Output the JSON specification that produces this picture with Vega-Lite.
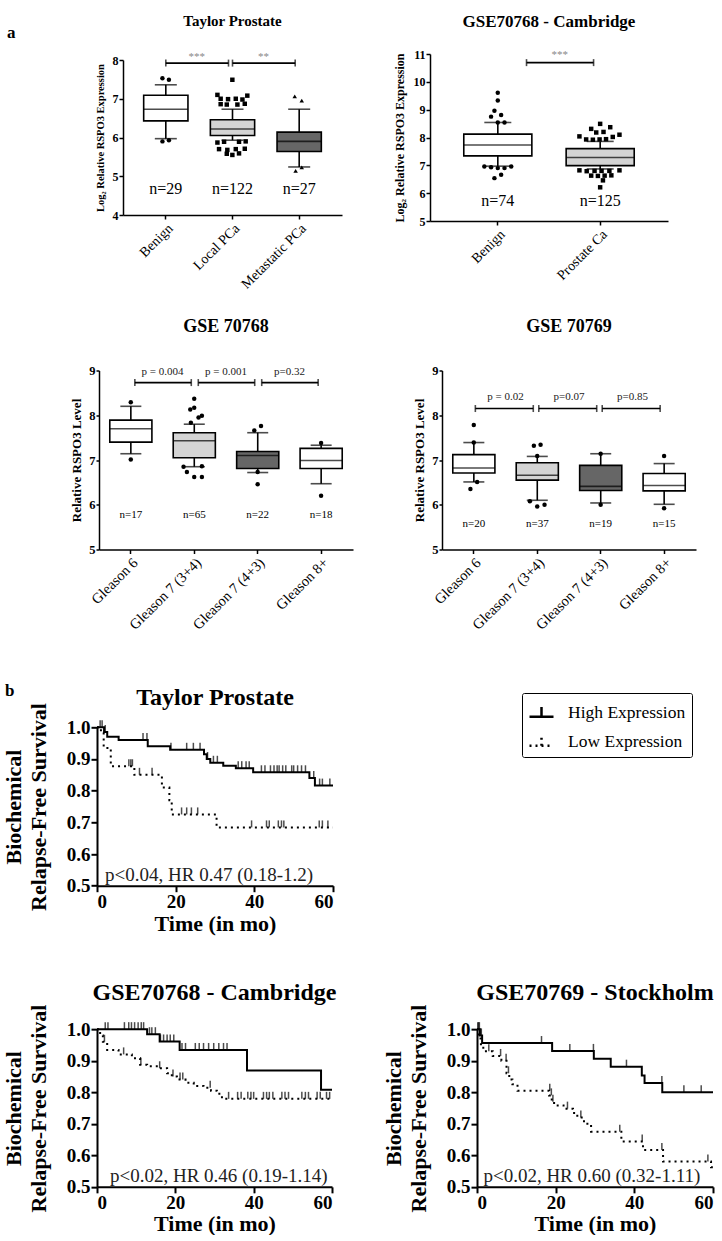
{
"$schema": "https://vega.github.io/schema/vega-lite/v6.json",
"padding": 0,
"background": "white",
"config": {"view": {"stroke": null}, "font": "Liberation Serif",
 "text": {"font": "Liberation Serif", "color": "black"},
 "axis": {"grid": false, "domainColor": "black", "tickColor": "black", "labelColor": "black", "titleColor": "black", "labelFont": "Liberation Serif", "titleFont": "Liberation Serif", "labelOverlap": false, "labelSeparation": -60},
 "title": {"font": "Liberation Serif", "fontWeight": "bold", "color": "black"},
 "legend": {"labelFont": "Liberation Serif"}},
"datasets": {
"a1_box": [
 {"group": "Benign", "lo": 5.97, "q1": 6.43, "med": 6.73, "q3": 7.09, "hi": 7.36, "n": "n=29"},
 {"group": "Local PCa", "lo": 5.93, "q1": 6.05, "med": 6.22, "q3": 6.46, "hi": 6.73, "n": "n=122"},
 {"group": "Metastatic PCa", "lo": 5.24, "q1": 5.64, "med": 5.9, "q3": 6.14, "hi": 6.73, "n": "n=27"}],
"a1_out": [
 {"group": "Benign", "value": 7.53, "jitter": -0.18}, {"group": "Benign", "value": 7.49, "jitter": 0.18},
 {"group": "Benign", "value": 5.9, "jitter": -0.18}, {"group": "Benign", "value": 5.93, "jitter": 0.18},
 {"group": "Local PCa", "value": 7.49, "jitter": 0}, {"group": "Local PCa", "value": 7.1, "jitter": -0.83},
 {"group": "Local PCa", "value": 7.08, "jitter": 0.83}, {"group": "Local PCa", "value": 7.0, "jitter": -0.65},
 {"group": "Local PCa", "value": 6.99, "jitter": -0.24}, {"group": "Local PCa", "value": 7.0, "jitter": 0.19},
 {"group": "Local PCa", "value": 6.98, "jitter": 0.56}, {"group": "Local PCa", "value": 6.86, "jitter": -0.65},
 {"group": "Local PCa", "value": 6.85, "jitter": -0.31}, {"group": "Local PCa", "value": 6.85, "jitter": 0.28},
 {"group": "Local PCa", "value": 6.87, "jitter": 0.69}, {"group": "Local PCa", "value": 5.87, "jitter": -0.83},
 {"group": "Local PCa", "value": 5.89, "jitter": -0.46}, {"group": "Local PCa", "value": 5.89, "jitter": 0.37},
 {"group": "Local PCa", "value": 5.9, "jitter": 0.74}, {"group": "Local PCa", "value": 5.7, "jitter": -0.74},
 {"group": "Local PCa", "value": 5.68, "jitter": -0.28}, {"group": "Local PCa", "value": 5.7, "jitter": 0.19},
 {"group": "Local PCa", "value": 5.71, "jitter": 0.69}, {"group": "Local PCa", "value": 5.58, "jitter": -0.31},
 {"group": "Local PCa", "value": 5.55, "jitter": 0}, {"group": "Local PCa", "value": 5.59, "jitter": 0.37},
 {"group": "Metastatic PCa", "value": 7.06, "jitter": -0.24}, {"group": "Metastatic PCa", "value": 6.95, "jitter": 0.15},
 {"group": "Metastatic PCa", "value": 5.14, "jitter": -0.19}, {"group": "Metastatic PCa", "value": 5.23, "jitter": 0.15}],
"a1_sig": [{"g1": "Benign", "g2": "Local PCa", "label": "***"}, {"g1": "Local PCa", "g2": "Metastatic PCa", "label": "**"}],
"a2_box": [
 {"group": "Benign", "lo": 6.97, "q1": 7.34, "med": 7.73, "q3": 8.12, "hi": 8.54, "n": "n=74"},
 {"group": "Prostate Ca", "lo": 6.87, "q1": 6.99, "med": 7.28, "q3": 7.6, "hi": 7.86, "n": "n=125"}],
"a2_out": [
 {"group": "Benign", "value": 9.61, "jitter": 0}, {"group": "Benign", "value": 9.33, "jitter": 0},
 {"group": "Benign", "value": 8.96, "jitter": -0.12}, {"group": "Benign", "value": 8.81, "jitter": 0.12},
 {"group": "Benign", "value": 8.75, "jitter": -0.24}, {"group": "Benign", "value": 8.54, "jitter": 0},
 {"group": "Benign", "value": 8.54, "jitter": 0.24}, {"group": "Benign", "value": 6.96, "jitter": -0.48},
 {"group": "Benign", "value": 6.93, "jitter": -0.24}, {"group": "Benign", "value": 6.9, "jitter": 0},
 {"group": "Benign", "value": 6.9, "jitter": 0.24}, {"group": "Benign", "value": 6.96, "jitter": 0.48},
 {"group": "Benign", "value": 6.66, "jitter": 0.12}, {"group": "Benign", "value": 6.54, "jitter": -0.12},
 {"group": "Prostate Ca", "value": 8.49, "jitter": 0}, {"group": "Prostate Ca", "value": 8.31, "jitter": -0.32},
 {"group": "Prostate Ca", "value": 8.37, "jitter": 0.36}, {"group": "Prostate Ca", "value": 8.18, "jitter": -0.14},
 {"group": "Prostate Ca", "value": 8.2, "jitter": 0.12}, {"group": "Prostate Ca", "value": 8.04, "jitter": -0.74},
 {"group": "Prostate Ca", "value": 8.1, "jitter": 0.69}, {"group": "Prostate Ca", "value": 7.93, "jitter": -0.5},
 {"group": "Prostate Ca", "value": 7.92, "jitter": -0.26}, {"group": "Prostate Ca", "value": 7.93, "jitter": -0.02},
 {"group": "Prostate Ca", "value": 7.94, "jitter": 0.21}, {"group": "Prostate Ca", "value": 8.02, "jitter": 0.45},
 {"group": "Prostate Ca", "value": 6.82, "jitter": -0.74}, {"group": "Prostate Ca", "value": 6.79, "jitter": -0.48},
 {"group": "Prostate Ca", "value": 6.8, "jitter": -0.2}, {"group": "Prostate Ca", "value": 6.8, "jitter": 0.05},
 {"group": "Prostate Ca", "value": 6.8, "jitter": 0.33}, {"group": "Prostate Ca", "value": 6.82, "jitter": 0.69},
 {"group": "Prostate Ca", "value": 6.63, "jitter": -0.32}, {"group": "Prostate Ca", "value": 6.62, "jitter": -0.08},
 {"group": "Prostate Ca", "value": 6.63, "jitter": 0.16}, {"group": "Prostate Ca", "value": 6.64, "jitter": 0.4},
 {"group": "Prostate Ca", "value": 6.46, "jitter": 0.1}, {"group": "Prostate Ca", "value": 6.21, "jitter": 0}],
"a2_sig": [{"g1": "Benign", "g2": "Prostate Ca", "label": "***"}],
"b1_box": [
 {"group": "Gleason 6", "lo": 7.14, "q1": 7.4, "med": 7.7, "q3": 7.89, "hi": 8.2, "n": "n=17"},
 {"group": "Gleason 7 (3+4)", "lo": 6.85, "q1": 7.05, "med": 7.43, "q3": 7.61, "hi": 7.8, "n": "n=65"},
 {"group": "Gleason 7 (4+3)", "lo": 6.72, "q1": 6.81, "med": 7.1, "q3": 7.19, "hi": 7.61, "n": "n=22"},
 {"group": "Gleason 8+", "lo": 6.47, "q1": 6.81, "med": 6.99, "q3": 7.26, "hi": 7.33, "n": "n=18"}],
"b1_out": [
 {"group": "Gleason 6", "value": 8.29, "jitter": 0}, {"group": "Gleason 6", "value": 7.01, "jitter": 0},
 {"group": "Gleason 7 (3+4)", "value": 8.37, "jitter": 0}, {"group": "Gleason 7 (3+4)", "value": 8.13, "jitter": -0.33},
 {"group": "Gleason 7 (3+4)", "value": 8.17, "jitter": 0}, {"group": "Gleason 7 (3+4)", "value": 7.95, "jitter": 0.36},
 {"group": "Gleason 7 (3+4)", "value": 7.99, "jitter": 0.64}, {"group": "Gleason 7 (3+4)", "value": 7.83, "jitter": -0.28},
 {"group": "Gleason 7 (3+4)", "value": 6.85, "jitter": -0.89}, {"group": "Gleason 7 (3+4)", "value": 6.86, "jitter": 0.64},
 {"group": "Gleason 7 (3+4)", "value": 6.73, "jitter": -0.61}, {"group": "Gleason 7 (3+4)", "value": 6.62, "jitter": 0},
 {"group": "Gleason 7 (3+4)", "value": 6.62, "jitter": 0.64},
 {"group": "Gleason 7 (4+3)", "value": 7.66, "jitter": -0.28}, {"group": "Gleason 7 (4+3)", "value": 7.76, "jitter": 0.28},
 {"group": "Gleason 7 (4+3)", "value": 6.73, "jitter": 0}, {"group": "Gleason 7 (4+3)", "value": 6.46, "jitter": 0},
 {"group": "Gleason 8+", "value": 7.38, "jitter": 0}, {"group": "Gleason 8+", "value": 6.2, "jitter": 0}],
"b1_sig": [{"g1": "Gleason 6", "g2": "Gleason 7 (3+4)", "label": "p = 0.004"}, {"g1": "Gleason 7 (3+4)", "g2": "Gleason 7 (4+3)", "label": "p = 0.001"}, {"g1": "Gleason 7 (4+3)", "g2": "Gleason 8+", "label": "p=0.32"}],
"b2_box": [
 {"group": "Gleason 6", "lo": 6.51, "q1": 6.71, "med": 6.82, "q3": 7.12, "hi": 7.39, "n": "n=20"},
 {"group": "Gleason 7 (3+4)", "lo": 6.1, "q1": 6.55, "med": 6.66, "q3": 6.94, "hi": 7.08, "n": "n=37"},
 {"group": "Gleason 7 (4+3)", "lo": 6.04, "q1": 6.32, "med": 6.41, "q3": 6.88, "hi": 7.14, "n": "n=19"},
 {"group": "Gleason 8+", "lo": 6.01, "q1": 6.31, "med": 6.43, "q3": 6.7, "hi": 6.92, "n": "n=15"}],
"b2_out": [
 {"group": "Gleason 6", "value": 7.78, "jitter": 0}, {"group": "Gleason 6", "value": 7.39, "jitter": 0},
 {"group": "Gleason 6", "value": 6.51, "jitter": 0.28}, {"group": "Gleason 6", "value": 6.35, "jitter": -0.28},
 {"group": "Gleason 7 (3+4)", "value": 7.32, "jitter": -0.28}, {"group": "Gleason 7 (3+4)", "value": 7.34, "jitter": 0.28},
 {"group": "Gleason 7 (3+4)", "value": 7.09, "jitter": 0}, {"group": "Gleason 7 (3+4)", "value": 6.08, "jitter": -0.61},
 {"group": "Gleason 7 (3+4)", "value": 5.96, "jitter": 0}, {"group": "Gleason 7 (3+4)", "value": 6.0, "jitter": 0.61},
 {"group": "Gleason 7 (4+3)", "value": 7.14, "jitter": 0}, {"group": "Gleason 7 (4+3)", "value": 6.0, "jitter": 0},
 {"group": "Gleason 8+", "value": 7.09, "jitter": 0}, {"group": "Gleason 8+", "value": 5.92, "jitter": 0}],
"b2_sig": [{"g1": "Gleason 6", "g2": "Gleason 7 (3+4)", "label": "p = 0.02"}, {"g1": "Gleason 7 (3+4)", "g2": "Gleason 7 (4+3)", "label": "p=0.07"}, {"g1": "Gleason 7 (4+3)", "g2": "Gleason 8+", "label": "p=0.85"}],
"km1_line": [
 {"arm": "High Expression", "t": 0, "s": 1}, {"arm": "High Expression", "t": 1.8, "s": 0.985}, {"arm": "High Expression", "t": 2.6, "s": 0.97},
 {"arm": "High Expression", "t": 5.5, "s": 0.96}, {"arm": "High Expression", "t": 12.9, "s": 0.94}, {"arm": "High Expression", "t": 18.6, "s": 0.929},
 {"arm": "High Expression", "t": 27.2, "s": 0.915}, {"arm": "High Expression", "t": 27.9, "s": 0.9}, {"arm": "High Expression", "t": 28.8, "s": 0.888},
 {"arm": "High Expression", "t": 32.1, "s": 0.879}, {"arm": "High Expression", "t": 35.3, "s": 0.871}, {"arm": "High Expression", "t": 39.7, "s": 0.858},
 {"arm": "High Expression", "t": 54, "s": 0.84}, {"arm": "High Expression", "t": 55.4, "s": 0.816}, {"arm": "High Expression", "t": 60, "s": 0.816},
 {"arm": "Low Expression", "t": 0, "s": 1}, {"arm": "Low Expression", "t": 1, "s": 0.985}, {"arm": "Low Expression", "t": 1.7, "s": 0.935},
 {"arm": "Low Expression", "t": 3.5, "s": 0.877}, {"arm": "Low Expression", "t": 9.5, "s": 0.85}, {"arm": "Low Expression", "t": 16.5, "s": 0.81},
 {"arm": "Low Expression", "t": 18.4, "s": 0.77}, {"arm": "Low Expression", "t": 19, "s": 0.725}, {"arm": "Low Expression", "t": 30.4, "s": 0.684},
 {"arm": "Low Expression", "t": 60, "s": 0.684}],
"km1_cens": [
 {"arm": "High Expression", "t": 0.8, "s": 1}, {"arm": "High Expression", "t": 1.3, "s": 1}, {"arm": "High Expression", "t": 2.1, "s": 0.985},
 {"arm": "High Expression", "t": 11.7, "s": 0.96}, {"arm": "High Expression", "t": 12.7, "s": 0.96}, {"arm": "High Expression", "t": 18.8, "s": 0.929},
 {"arm": "High Expression", "t": 22.8, "s": 0.929}, {"arm": "High Expression", "t": 24.5, "s": 0.929}, {"arm": "High Expression", "t": 26.2, "s": 0.929},
 {"arm": "High Expression", "t": 28.1, "s": 0.9}, {"arm": "High Expression", "t": 29.6, "s": 0.888}, {"arm": "High Expression", "t": 30.6, "s": 0.888},
 {"arm": "High Expression", "t": 35.9, "s": 0.871}, {"arm": "High Expression", "t": 36.8, "s": 0.871}, {"arm": "High Expression", "t": 37.9, "s": 0.871},
 {"arm": "High Expression", "t": 38.7, "s": 0.871}, {"arm": "High Expression", "t": 41.8, "s": 0.858}, {"arm": "High Expression", "t": 42.7, "s": 0.858},
 {"arm": "High Expression", "t": 44.1, "s": 0.858}, {"arm": "High Expression", "t": 45, "s": 0.858}, {"arm": "High Expression", "t": 45.8, "s": 0.858},
 {"arm": "High Expression", "t": 46.3, "s": 0.858}, {"arm": "High Expression", "t": 47.2, "s": 0.858}, {"arm": "High Expression", "t": 48, "s": 0.858},
 {"arm": "High Expression", "t": 49.5, "s": 0.858}, {"arm": "High Expression", "t": 50, "s": 0.858}, {"arm": "High Expression", "t": 51, "s": 0.858},
 {"arm": "High Expression", "t": 52, "s": 0.858}, {"arm": "High Expression", "t": 53, "s": 0.858}, {"arm": "High Expression", "t": 55.1, "s": 0.84},
 {"arm": "High Expression", "t": 56.6, "s": 0.816}, {"arm": "High Expression", "t": 57.3, "s": 0.816}, {"arm": "High Expression", "t": 59.2, "s": 0.816},
 {"arm": "Low Expression", "t": 8.1, "s": 0.877}, {"arm": "Low Expression", "t": 8.6, "s": 0.877}, {"arm": "Low Expression", "t": 9, "s": 0.877},
 {"arm": "Low Expression", "t": 10.8, "s": 0.85}, {"arm": "Low Expression", "t": 14, "s": 0.85}, {"arm": "Low Expression", "t": 21.5, "s": 0.725},
 {"arm": "Low Expression", "t": 22.8, "s": 0.725}, {"arm": "Low Expression", "t": 24, "s": 0.725}, {"arm": "Low Expression", "t": 25.6, "s": 0.725},
 {"arm": "Low Expression", "t": 39.3, "s": 0.684}, {"arm": "Low Expression", "t": 43.1, "s": 0.684}, {"arm": "Low Expression", "t": 43.8, "s": 0.684},
 {"arm": "Low Expression", "t": 46.1, "s": 0.684}, {"arm": "Low Expression", "t": 46.9, "s": 0.684}, {"arm": "Low Expression", "t": 47.5, "s": 0.684},
 {"arm": "Low Expression", "t": 56.5, "s": 0.684}, {"arm": "Low Expression", "t": 57.3, "s": 0.684}, {"arm": "Low Expression", "t": 58.7, "s": 0.684}],
"km2_line": [
 {"arm": "High Expression", "t": 0, "s": 1}, {"arm": "High Expression", "t": 12.8, "s": 0.984}, {"arm": "High Expression", "t": 16, "s": 0.961},
 {"arm": "High Expression", "t": 21.1, "s": 0.934}, {"arm": "High Expression", "t": 38.3, "s": 0.869}, {"arm": "High Expression", "t": 57.2, "s": 0.808},
 {"arm": "High Expression", "t": 60, "s": 0.808},
 {"arm": "Low Expression", "t": 0, "s": 1}, {"arm": "Low Expression", "t": 0.8, "s": 0.98}, {"arm": "Low Expression", "t": 1.5, "s": 0.96},
 {"arm": "Low Expression", "t": 2.6, "s": 0.934}, {"arm": "Low Expression", "t": 5.5, "s": 0.92}, {"arm": "Low Expression", "t": 8.9, "s": 0.908},
 {"arm": "Low Expression", "t": 11, "s": 0.887}, {"arm": "Low Expression", "t": 12.8, "s": 0.882}, {"arm": "Low Expression", "t": 15.7, "s": 0.876},
 {"arm": "Low Expression", "t": 17.9, "s": 0.86}, {"arm": "Low Expression", "t": 19.1, "s": 0.85}, {"arm": "Low Expression", "t": 20.4, "s": 0.84},
 {"arm": "Low Expression", "t": 22.6, "s": 0.83}, {"arm": "Low Expression", "t": 24.7, "s": 0.82}, {"arm": "Low Expression", "t": 27.2, "s": 0.814},
 {"arm": "Low Expression", "t": 29.1, "s": 0.805}, {"arm": "Low Expression", "t": 30.6, "s": 0.795}, {"arm": "Low Expression", "t": 31.9, "s": 0.779},
 {"arm": "Low Expression", "t": 60, "s": 0.779}],
"km2_cens": [
 {"arm": "High Expression", "t": 2.1, "s": 1}, {"arm": "High Expression", "t": 2.8, "s": 1}, {"arm": "High Expression", "t": 7, "s": 1},
 {"arm": "High Expression", "t": 8.1, "s": 1}, {"arm": "High Expression", "t": 8.8, "s": 1}, {"arm": "High Expression", "t": 9.6, "s": 1},
 {"arm": "High Expression", "t": 10.5, "s": 1}, {"arm": "High Expression", "t": 11.3, "s": 1}, {"arm": "High Expression", "t": 11.9, "s": 1},
 {"arm": "High Expression", "t": 13.4, "s": 0.984}, {"arm": "High Expression", "t": 14, "s": 0.984}, {"arm": "High Expression", "t": 14.9, "s": 0.984},
 {"arm": "High Expression", "t": 16.2, "s": 0.961}, {"arm": "High Expression", "t": 17, "s": 0.961}, {"arm": "High Expression", "t": 17.9, "s": 0.961},
 {"arm": "High Expression", "t": 18.7, "s": 0.961}, {"arm": "High Expression", "t": 19.6, "s": 0.961}, {"arm": "High Expression", "t": 21.7, "s": 0.934},
 {"arm": "High Expression", "t": 22.6, "s": 0.934}, {"arm": "High Expression", "t": 25.1, "s": 0.934}, {"arm": "High Expression", "t": 26.1, "s": 0.934},
 {"arm": "High Expression", "t": 27.2, "s": 0.934}, {"arm": "High Expression", "t": 28.5, "s": 0.934}, {"arm": "High Expression", "t": 29.8, "s": 0.934},
 {"arm": "High Expression", "t": 31.1, "s": 0.934}, {"arm": "High Expression", "t": 32.3, "s": 0.934}, {"arm": "High Expression", "t": 33.2, "s": 0.934},
 {"arm": "Low Expression", "t": 1.9, "s": 0.96}, {"arm": "Low Expression", "t": 6.8, "s": 0.92}, {"arm": "Low Expression", "t": 11.2, "s": 0.887},
 {"arm": "Low Expression", "t": 16, "s": 0.876}, {"arm": "Low Expression", "t": 19.4, "s": 0.85}, {"arm": "Low Expression", "t": 21.2, "s": 0.84},
 {"arm": "Low Expression", "t": 21.9, "s": 0.84}, {"arm": "Low Expression", "t": 28.9, "s": 0.814}, {"arm": "Low Expression", "t": 33.6, "s": 0.779},
 {"arm": "Low Expression", "t": 35.9, "s": 0.779}, {"arm": "Low Expression", "t": 36.8, "s": 0.779}, {"arm": "Low Expression", "t": 38.5, "s": 0.779},
 {"arm": "Low Expression", "t": 39.3, "s": 0.779}, {"arm": "Low Expression", "t": 40, "s": 0.779}, {"arm": "Low Expression", "t": 42.5, "s": 0.779},
 {"arm": "Low Expression", "t": 43.3, "s": 0.779}, {"arm": "Low Expression", "t": 44, "s": 0.779}, {"arm": "Low Expression", "t": 44.9, "s": 0.779},
 {"arm": "Low Expression", "t": 47.2, "s": 0.779}, {"arm": "Low Expression", "t": 48, "s": 0.779}, {"arm": "Low Expression", "t": 48.9, "s": 0.779},
 {"arm": "Low Expression", "t": 52.3, "s": 0.779}, {"arm": "Low Expression", "t": 53.2, "s": 0.779}, {"arm": "Low Expression", "t": 54, "s": 0.779},
 {"arm": "Low Expression", "t": 56.2, "s": 0.779}, {"arm": "Low Expression", "t": 57, "s": 0.779}, {"arm": "Low Expression", "t": 58.6, "s": 0.779},
 {"arm": "Low Expression", "t": 59.4, "s": 0.779}],
"km3_line": [
 {"arm": "High Expression", "t": 0, "s": 1}, {"arm": "High Expression", "t": 0.7, "s": 0.98}, {"arm": "High Expression", "t": 1.3, "s": 0.956},
 {"arm": "High Expression", "t": 19.1, "s": 0.931}, {"arm": "High Expression", "t": 29.7, "s": 0.906}, {"arm": "High Expression", "t": 34, "s": 0.881},
 {"arm": "High Expression", "t": 41.9, "s": 0.853}, {"arm": "High Expression", "t": 42.6, "s": 0.829}, {"arm": "High Expression", "t": 47.1, "s": 0.8},
 {"arm": "High Expression", "t": 60, "s": 0.8},
 {"arm": "Low Expression", "t": 0, "s": 1}, {"arm": "Low Expression", "t": 0.4, "s": 0.97}, {"arm": "Low Expression", "t": 1, "s": 0.945},
 {"arm": "Low Expression", "t": 1.6, "s": 0.93}, {"arm": "Low Expression", "t": 4, "s": 0.915}, {"arm": "Low Expression", "t": 6.2, "s": 0.9},
 {"arm": "Low Expression", "t": 7.5, "s": 0.86}, {"arm": "Low Expression", "t": 8.2, "s": 0.84}, {"arm": "Low Expression", "t": 9, "s": 0.825},
 {"arm": "Low Expression", "t": 10.3, "s": 0.805}, {"arm": "Low Expression", "t": 18.3, "s": 0.79}, {"arm": "Low Expression", "t": 19, "s": 0.77},
 {"arm": "Low Expression", "t": 19.6, "s": 0.758}, {"arm": "Low Expression", "t": 22, "s": 0.748}, {"arm": "Low Expression", "t": 24.4, "s": 0.734},
 {"arm": "Low Expression", "t": 25.5, "s": 0.72}, {"arm": "Low Expression", "t": 27.2, "s": 0.7}, {"arm": "Low Expression", "t": 29, "s": 0.675},
 {"arm": "Low Expression", "t": 36.7, "s": 0.644}, {"arm": "Low Expression", "t": 42.2, "s": 0.617}, {"arm": "Low Expression", "t": 47.3, "s": 0.58},
 {"arm": "Low Expression", "t": 59.5, "s": 0.562}, {"arm": "Low Expression", "t": 60, "s": 0.562}],
"km3_cens": [
 {"arm": "High Expression", "t": 0.2, "s": 1}, {"arm": "High Expression", "t": 0.4, "s": 1}, {"arm": "High Expression", "t": 0.6, "s": 1},
 {"arm": "High Expression", "t": 0.9, "s": 0.98}, {"arm": "High Expression", "t": 1.1, "s": 0.98}, {"arm": "High Expression", "t": 16.4, "s": 0.956},
 {"arm": "High Expression", "t": 23.6, "s": 0.931}, {"arm": "High Expression", "t": 29.6, "s": 0.931}, {"arm": "High Expression", "t": 38, "s": 0.881},
 {"arm": "High Expression", "t": 47, "s": 0.829}, {"arm": "High Expression", "t": 52.6, "s": 0.8}, {"arm": "High Expression", "t": 57, "s": 0.8},
 {"arm": "Low Expression", "t": 3, "s": 0.93}, {"arm": "Low Expression", "t": 6, "s": 0.915}, {"arm": "Low Expression", "t": 7.4, "s": 0.9},
 {"arm": "Low Expression", "t": 8, "s": 0.86}, {"arm": "Low Expression", "t": 18.5, "s": 0.805}, {"arm": "Low Expression", "t": 18.9, "s": 0.79},
 {"arm": "Low Expression", "t": 19.3, "s": 0.77}, {"arm": "Low Expression", "t": 23, "s": 0.748}, {"arm": "Low Expression", "t": 26.4, "s": 0.72},
 {"arm": "Low Expression", "t": 36.3, "s": 0.675}, {"arm": "Low Expression", "t": 42, "s": 0.644}, {"arm": "Low Expression", "t": 47, "s": 0.617},
 {"arm": "Low Expression", "t": 58.7, "s": 0.58}]
},
"spacing": 0,
"vconcat": [
{"bounds": "flush", "spacing": 0, "center": true, "hconcat": [
 {"width": 123, "height": 275, "data": {"values": []}, "mark": "point",
  "title": {"text": "a", "anchor": "start", "frame": "group", "fontSize": 17, "offset": -42, "dx": 7}},
 {"width": 219, "height": 155,
  "title": {"text": "Taylor Prostate", "fontSize": 15, "offset": 22},
  "resolve": {"scale": {"xOffset": "independent"}},
  "encoding": {"x": {"field": "group", "type": "nominal", "scale": {"domain": ["Benign", "Local PCa", "Metastatic PCa"], "paddingInner": 0.336, "paddingOuter": 0.31},
    "axis": {"title": null, "labelAngle": -45, "labelFontSize": 14, "domainWidth": 1.5, "tickWidth": 1.5, "tickSize": 4, "labelPadding": 2}}},
  "layer": [
   {"data": {"name": "a1_box"}, "mark": {"type": "rule", "strokeWidth": 1.6, "color": "black"},
    "encoding": {"y": {"field": "lo", "type": "quantitative", "scale": {"domain": [4, 8], "nice": false, "zero": false},
      "axis": {"title": "Log₂ Relative RSPO3 Expression", "values": [4, 5, 6, 7, 8], "tickCount": 5, "titleFontSize": 10.5, "titleFontWeight": "bold", "labelFontSize": 12, "labelFontWeight": "bold", "domainWidth": 1.5, "tickWidth": 1.5, "tickSize": 4, "labelPadding": 1, "titlePadding": 7, "labelOverlap": false, "labelSeparation": -60}},
     "y2": {"field": "hi"}}},
   {"data": {"name": "a1_box"}, "mark": {"type": "bar", "stroke": "black", "strokeWidth": 1.6},
    "encoding": {"y": {"field": "q1", "type": "quantitative"}, "y2": {"field": "q3"},
     "fill": {"field": "group", "type": "nominal", "scale": {"domain": ["Benign", "Local PCa", "Metastatic PCa", "Prostate Ca", "Gleason 6", "Gleason 7 (3+4)", "Gleason 7 (4+3)", "Gleason 8+"], "range": ["#ffffff", "#d4d4d4", "#666666", "#d4d4d4", "#ffffff", "#d4d4d4", "#666666", "#ffffff"]}, "legend": null}}},
   {"data": {"name": "a1_box"}, "mark": {"type": "tick", "size": 44, "thickness": 1.6, "color": "black"}, "encoding": {"y": {"field": "med", "type": "quantitative"}}},
   {"data": {"name": "a1_box"}, "mark": {"type": "tick", "size": 22, "thickness": 1.6, "color": "black"}, "encoding": {"y": {"field": "lo", "type": "quantitative"}}},
   {"data": {"name": "a1_box"}, "mark": {"type": "tick", "size": 22, "thickness": 1.6, "color": "black"}, "encoding": {"y": {"field": "hi", "type": "quantitative"}}},
   {"data": {"name": "a1_out"}, "mark": {"type": "point", "filled": true, "color": "black", "size": 20, "opacity": 1},
    "encoding": {"y": {"field": "value", "type": "quantitative"},
     "xOffset": {"field": "jitter", "type": "quantitative", "scale": {"domain": [-1, 1], "range": [4, 40]}},
     "shape": {"field": "group", "type": "nominal", "scale": {"domain": ["Benign", "Local PCa", "Metastatic PCa", "Prostate Ca"], "range": ["circle", "square", "triangle-up", "square"]}, "legend": null}}},
   {"data": {"name": "a1_box"}, "mark": {"type": "text", "fontSize": 16}, "encoding": {"y": {"datum": 4.67}, "text": {"field": "n"}}},
   {"data": {"name": "a1_sig"}, "mark": {"type": "rule", "strokeWidth": 1.6, "color": "black", "xOffset": 0, "x2Offset": -4},
    "encoding": {"x": {"field": "g1", "type": "nominal"}, "x2": {"field": "g2"}, "y": {"datum": 7.92}}},
   {"data": {"name": "a1_sig"}, "mark": {"type": "tick", "orient": "vertical", "size": 7, "thickness": 1.6, "color": "black", "xOffset": 0},
    "encoding": {"x": {"field": "g1", "type": "nominal"}, "y": {"datum": 7.92}}},
   {"data": {"name": "a1_sig"}, "mark": {"type": "tick", "orient": "vertical", "size": 7, "thickness": 1.6, "color": "black", "xOffset": -4},
    "encoding": {"x": {"field": "g2", "type": "nominal"}, "y": {"datum": 7.92}}},
   {"data": {"name": "a1_sig"}, "mark": {"type": "text", "fontSize": 11, "color": "#888888", "dx": 31},
    "encoding": {"x": {"field": "g1", "type": "nominal"}, "y": {"datum": 8.08}, "text": {"field": "label"}}}
  ]},
 {"width": 88, "height": 1, "data": {"values": []}, "mark": "point"},
 {"width": 238, "height": 167,
  "title": {"text": "GSE70768 - Cambridge", "fontSize": 17, "offset": 17.5},
  "resolve": {"scale": {"xOffset": "independent"}},
  "encoding": {"x": {"field": "group", "type": "nominal", "scale": {"domain": ["Benign", "Prostate Ca"], "paddingInner": 0.335, "paddingOuter": 0.33},
    "axis": {"title": null, "labelAngle": -45, "labelFontSize": 14, "domainWidth": 1.5, "tickWidth": 1.5, "tickSize": 4, "labelPadding": 2}}},
  "layer": [
   {"data": {"name": "a2_box"}, "mark": {"type": "rule", "strokeWidth": 1.6, "color": "black"},
    "encoding": {"y": {"field": "lo", "type": "quantitative", "scale": {"domain": [5, 11], "nice": false, "zero": false},
      "axis": {"title": "Log₂ Relative RSPO3 Expression", "values": [5, 6, 7, 8, 9, 10, 11], "tickCount": 7, "titleFontSize": 12, "titleFontWeight": "bold", "labelFontSize": 12, "labelFontWeight": "bold", "domainWidth": 1.5, "tickWidth": 1.5, "tickSize": 4, "labelPadding": 1, "titlePadding": 7, "labelOverlap": false, "labelSeparation": -60}},
     "y2": {"field": "hi"}}},
   {"data": {"name": "a2_box"}, "mark": {"type": "bar", "stroke": "black", "strokeWidth": 1.6},
    "encoding": {"y": {"field": "q1", "type": "quantitative"}, "y2": {"field": "q3"},
     "fill": {"field": "group", "type": "nominal", "scale": {"domain": ["Benign", "Local PCa", "Metastatic PCa", "Prostate Ca", "Gleason 6", "Gleason 7 (3+4)", "Gleason 7 (4+3)", "Gleason 8+"], "range": ["#ffffff", "#d4d4d4", "#666666", "#d4d4d4", "#ffffff", "#d4d4d4", "#666666", "#ffffff"]}, "legend": null}}},
   {"data": {"name": "a2_box"}, "mark": {"type": "tick", "size": 68, "thickness": 1.6, "color": "black"}, "encoding": {"y": {"field": "med", "type": "quantitative"}}},
   {"data": {"name": "a2_box"}, "mark": {"type": "tick", "size": 27, "thickness": 1.6, "color": "black"}, "encoding": {"y": {"field": "lo", "type": "quantitative"}}},
   {"data": {"name": "a2_box"}, "mark": {"type": "tick", "size": 27, "thickness": 1.6, "color": "black"}, "encoding": {"y": {"field": "hi", "type": "quantitative"}}},
   {"data": {"name": "a2_out"}, "mark": {"type": "point", "filled": true, "color": "black", "size": 20, "opacity": 1},
    "encoding": {"y": {"field": "value", "type": "quantitative"},
     "xOffset": {"field": "jitter", "type": "quantitative", "scale": {"domain": [-1, 1], "range": [6, 62]}},
     "shape": {"field": "group", "type": "nominal", "scale": {"domain": ["Benign", "Local PCa", "Metastatic PCa", "Prostate Ca"], "range": ["circle", "square", "triangle-up", "square"]}, "legend": null}}},
   {"data": {"name": "a2_box"}, "mark": {"type": "text", "fontSize": 16}, "encoding": {"y": {"datum": 5.71}, "text": {"field": "n"}}},
   {"data": {"name": "a2_sig"}, "mark": {"type": "rule", "strokeWidth": 1.6, "color": "black", "xOffset": 28.7, "x2Offset": -6.6},
    "encoding": {"x": {"field": "g1", "type": "nominal"}, "x2": {"field": "g2"}, "y": {"datum": 10.69}}},
   {"data": {"name": "a2_sig"}, "mark": {"type": "tick", "orient": "vertical", "size": 7, "thickness": 1.6, "color": "black", "xOffset": 28.7},
    "encoding": {"x": {"field": "g1", "type": "nominal"}, "y": {"datum": 10.69}}},
   {"data": {"name": "a2_sig"}, "mark": {"type": "tick", "orient": "vertical", "size": 7, "thickness": 1.6, "color": "black", "xOffset": -6.6},
    "encoding": {"x": {"field": "g2", "type": "nominal"}, "y": {"datum": 10.69}}},
   {"data": {"name": "a2_sig"}, "mark": {"type": "text", "fontSize": 11, "color": "#888888", "dx": 62},
    "encoding": {"x": {"field": "g1", "type": "nominal"}, "y": {"datum": 10.95}, "text": {"field": "label"}}}
  ]}
]},
{"bounds": "flush", "spacing": 0, "center": true, "hconcat": [
 {"width": 99, "height": 335.8, "data": {"values": []}, "mark": "point"},
 {"width": 254, "height": 179,
  "title": {"text": "GSE 70768", "fontSize": 18, "offset": 28.7},
  "resolve": {"scale": {"xOffset": "independent"}},
  "encoding": {"x": {"field": "group", "type": "nominal", "scale": {"domain": ["Gleason 6", "Gleason 7 (3+4)", "Gleason 7 (4+3)", "Gleason 8+"], "paddingInner": 0.336, "paddingOuter": 0.17},
    "axis": {"title": null, "labelAngle": -45, "labelFontSize": 14.5, "domainWidth": 1.5, "tickWidth": 1.5, "tickSize": 4, "labelPadding": 2}}},
  "layer": [
   {"data": {"name": "b1_box"}, "mark": {"type": "rule", "strokeWidth": 1.6, "color": "black"},
    "encoding": {"y": {"field": "lo", "type": "quantitative", "scale": {"domain": [5, 9], "nice": false, "zero": false},
      "axis": {"title": "Relative RSPO3  Level", "values": [5, 6, 7, 8, 9], "tickCount": 5, "titleFontSize": 13, "titleFontWeight": "bold", "labelFontSize": 12.5, "labelFontWeight": "bold", "domainWidth": 1.5, "tickWidth": 1.5, "tickSize": 3, "labelPadding": 1, "titlePadding": 5, "labelOverlap": false, "labelSeparation": -60}},
     "y2": {"field": "hi"}}},
   {"data": {"name": "b1_box"}, "mark": {"type": "bar", "stroke": "black", "strokeWidth": 1.6},
    "encoding": {"y": {"field": "q1", "type": "quantitative"}, "y2": {"field": "q3"},
     "fill": {"field": "group", "type": "nominal", "scale": {"domain": ["Benign", "Local PCa", "Metastatic PCa", "Prostate Ca", "Gleason 6", "Gleason 7 (3+4)", "Gleason 7 (4+3)", "Gleason 8+"], "range": ["#ffffff", "#d4d4d4", "#666666", "#d4d4d4", "#ffffff", "#d4d4d4", "#666666", "#ffffff"]}, "legend": null}}},
   {"data": {"name": "b1_box"}, "mark": {"type": "tick", "size": 42, "thickness": 1.6, "color": "black"}, "encoding": {"y": {"field": "med", "type": "quantitative"}}},
   {"data": {"name": "b1_box"}, "mark": {"type": "tick", "size": 21, "thickness": 1.6, "color": "black"}, "encoding": {"y": {"field": "lo", "type": "quantitative"}}},
   {"data": {"name": "b1_box"}, "mark": {"type": "tick", "size": 21, "thickness": 1.6, "color": "black"}, "encoding": {"y": {"field": "hi", "type": "quantitative"}}},
   {"data": {"name": "b1_out"}, "mark": {"type": "point", "filled": true, "color": "black", "size": 20, "opacity": 1, "shape": "circle"},
    "encoding": {"y": {"field": "value", "type": "quantitative"},
     "xOffset": {"field": "jitter", "type": "quantitative", "scale": {"domain": [-1, 1], "range": [9, 33]}}}},
   {"data": {"name": "b1_box"}, "mark": {"type": "text", "fontSize": 11}, "encoding": {"y": {"datum": 5.78}, "text": {"field": "n"}}},
   {"data": {"name": "b1_sig"}, "mark": {"type": "rule", "strokeWidth": 1.6, "color": "black", "xOffset": 4, "x2Offset": -3},
    "encoding": {"x": {"field": "g1", "type": "nominal"}, "x2": {"field": "g2"}, "y": {"datum": 8.73}}},
   {"data": {"name": "b1_sig"}, "mark": {"type": "tick", "orient": "vertical", "size": 7, "thickness": 1.6, "color": "black", "xOffset": 4},
    "encoding": {"x": {"field": "g1", "type": "nominal"}, "y": {"datum": 8.73}}},
   {"data": {"name": "b1_sig"}, "mark": {"type": "tick", "orient": "vertical", "size": 7, "thickness": 1.6, "color": "black", "xOffset": -3},
    "encoding": {"x": {"field": "g2", "type": "nominal"}, "y": {"datum": 8.73}}},
   {"data": {"name": "b1_sig"}, "mark": {"type": "text", "fontSize": 11, "color": "#222222", "dx": 31.7},
    "encoding": {"x": {"field": "g1", "type": "nominal"}, "y": {"datum": 8.97}, "text": {"field": "label"}}}
  ]},
 {"width": 89, "height": 1, "data": {"values": []}, "mark": "point"},
 {"width": 254, "height": 179,
  "title": {"text": "GSE 70769", "fontSize": 18, "offset": 28.7},
  "resolve": {"scale": {"xOffset": "independent"}},
  "encoding": {"x": {"field": "group", "type": "nominal", "scale": {"domain": ["Gleason 6", "Gleason 7 (3+4)", "Gleason 7 (4+3)", "Gleason 8+"], "paddingInner": 0.336, "paddingOuter": 0.17},
    "axis": {"title": null, "labelAngle": -45, "labelFontSize": 14.5, "domainWidth": 1.5, "tickWidth": 1.5, "tickSize": 4, "labelPadding": 2}}},
  "layer": [
   {"data": {"name": "b2_box"}, "mark": {"type": "rule", "strokeWidth": 1.6, "color": "black"},
    "encoding": {"y": {"field": "lo", "type": "quantitative", "scale": {"domain": [5, 9], "nice": false, "zero": false},
      "axis": {"title": "Relative RSPO3  Level", "values": [5, 6, 7, 8, 9], "tickCount": 5, "titleFontSize": 13, "titleFontWeight": "bold", "labelFontSize": 12.5, "labelFontWeight": "bold", "domainWidth": 1.5, "tickWidth": 1.5, "tickSize": 3, "labelPadding": 1, "titlePadding": 5, "labelOverlap": false, "labelSeparation": -60}},
     "y2": {"field": "hi"}}},
   {"data": {"name": "b2_box"}, "mark": {"type": "bar", "stroke": "black", "strokeWidth": 1.6},
    "encoding": {"y": {"field": "q1", "type": "quantitative"}, "y2": {"field": "q3"},
     "fill": {"field": "group", "type": "nominal", "scale": {"domain": ["Benign", "Local PCa", "Metastatic PCa", "Prostate Ca", "Gleason 6", "Gleason 7 (3+4)", "Gleason 7 (4+3)", "Gleason 8+"], "range": ["#ffffff", "#d4d4d4", "#666666", "#d4d4d4", "#ffffff", "#d4d4d4", "#666666", "#ffffff"]}, "legend": null}}},
   {"data": {"name": "b2_box"}, "mark": {"type": "tick", "size": 42, "thickness": 1.6, "color": "black"}, "encoding": {"y": {"field": "med", "type": "quantitative"}}},
   {"data": {"name": "b2_box"}, "mark": {"type": "tick", "size": 21, "thickness": 1.6, "color": "black"}, "encoding": {"y": {"field": "lo", "type": "quantitative"}}},
   {"data": {"name": "b2_box"}, "mark": {"type": "tick", "size": 21, "thickness": 1.6, "color": "black"}, "encoding": {"y": {"field": "hi", "type": "quantitative"}}},
   {"data": {"name": "b2_out"}, "mark": {"type": "point", "filled": true, "color": "black", "size": 20, "opacity": 1, "shape": "circle"},
    "encoding": {"y": {"field": "value", "type": "quantitative"},
     "xOffset": {"field": "jitter", "type": "quantitative", "scale": {"domain": [-1, 1], "range": [9, 33]}}}},
   {"data": {"name": "b2_box"}, "mark": {"type": "text", "fontSize": 11}, "encoding": {"y": {"datum": 5.58}, "text": {"field": "n"}}},
   {"data": {"name": "b2_sig"}, "mark": {"type": "rule", "strokeWidth": 1.6, "color": "black", "xOffset": 1.5, "x2Offset": -4},
    "encoding": {"x": {"field": "g1", "type": "nominal"}, "x2": {"field": "g2"}, "y": {"datum": 8.15}}},
   {"data": {"name": "b2_sig"}, "mark": {"type": "tick", "orient": "vertical", "size": 7, "thickness": 1.6, "color": "black", "xOffset": 1.5},
    "encoding": {"x": {"field": "g1", "type": "nominal"}, "y": {"datum": 8.15}}},
   {"data": {"name": "b2_sig"}, "mark": {"type": "tick", "orient": "vertical", "size": 7, "thickness": 1.6, "color": "black", "xOffset": -4},
    "encoding": {"x": {"field": "g2", "type": "nominal"}, "y": {"datum": 8.15}}},
   {"data": {"name": "b2_sig"}, "mark": {"type": "text", "fontSize": 11, "color": "#222222", "dx": 31.7},
    "encoding": {"x": {"field": "g1", "type": "nominal"}, "y": {"datum": 8.41}, "text": {"field": "label"}}}
  ]}
]},
{"bounds": "flush", "spacing": 0, "center": true, "hconcat": [
 {"width": 97, "height": 349, "data": {"values": []}, "mark": "point",
  "title": {"text": "b", "anchor": "start", "frame": "group", "fontSize": 17, "offset": -68.2, "dx": 5}},
 {"width": 236, "height": 158.4,
  "title": {"text": "Taylor  Prostate", "fontSize": 24, "offset": -7.7},
  "layer": [
   {"data": {"name": "km1_line"}, "mark": {"type": "line", "interpolate": "step-after", "strokeWidth": 2, "color": "black"},
    "encoding": {
     "x": {"field": "t", "type": "quantitative", "scale": {"domain": [0, 60], "nice": false},
      "axis": {"title": "Time (in mo)", "values": [0, 20, 40, 60], "tickCount": 4, "titleFontSize": 22, "titleFontWeight": "bold", "labelFontSize": 19, "labelFontWeight": "bold", "domainWidth": 2, "tickWidth": 2, "tickSize": 6, "labelPadding": 1, "titlePadding": 2, "labelOverlap": false}},
     "y": {"field": "s", "type": "quantitative", "scale": {"domain": [0.5, 1], "nice": false, "zero": false},
      "axis": {"title": ["Biochemical", "Relapse-Free Survival"], "values": [0.5, 0.6, 0.7, 0.8, 0.9, 1], "tickCount": 6, "format": ".1f", "titleFontSize": 22, "titleFontWeight": "bold", "titleLineHeight": 25, "labelFontSize": 19, "labelFontWeight": "bold", "domainWidth": 2, "tickWidth": 2, "tickSize": 6, "labelPadding": 1, "titlePadding": 15.5, "labelOverlap": false, "labelSeparation": -60}},
     "strokeDash": {"field": "arm", "type": "nominal", "scale": {"domain": ["High Expression", "Low Expression"], "range": [[1, 0], [2, 4]]},
      "legend": {"orient": "none", "legendX": 522, "legendY": 693, "title": null, "labelFontSize": 17.5, "labelColor": "black", "symbolType": "M-1,0.35H1M0,0.35V-0.45", "symbolSize": 576, "symbolStrokeWidth": 2.5, "symbolStrokeColor": "black", "symbolFillColor": "transparent", "strokeColor": "black", "fillColor": "white", "padding": 6, "cornerRadius": 2, "rowPadding": 6, "labelOffset": 13}}}},
   {"data": {"name": "km1_cens"}, "mark": {"type": "tick", "orient": "vertical", "size": 7, "thickness": 1.5, "yOffset": -3.5, "color": "black"},
    "encoding": {"x": {"field": "t", "type": "quantitative"}, "y": {"field": "s", "type": "quantitative"}}},
   {"data": {"values": [{"label": "p<0.04, HR 0.47 (0.18-1.2)"}]}, "mark": {"type": "text", "fontSize": 19, "color": "#222222"},
    "encoding": {"x": {"datum": 28.5}, "y": {"datum": 0.534}, "text": {"field": "label"}}}
  ]}
]},
{"bounds": "flush", "spacing": 0, "center": true, "hconcat": [
 {"width": 97, "height": 253.7, "data": {"values": []}, "mark": "point"},
 {"width": 235, "height": 157.7,
  "title": {"text": "GSE70768 - Cambridge", "fontSize": 24, "offset": -1},
  "layer": [
   {"data": {"name": "km2_line"}, "mark": {"type": "line", "interpolate": "step-after", "strokeWidth": 2, "color": "black"},
    "encoding": {
     "x": {"field": "t", "type": "quantitative", "scale": {"domain": [0, 60], "nice": false},
      "axis": {"title": "Time (in mo)", "values": [0, 20, 40, 60], "tickCount": 4, "titleFontSize": 22, "titleFontWeight": "bold", "labelFontSize": 19, "labelFontWeight": "bold", "domainWidth": 2, "tickWidth": 2, "tickSize": 6, "labelPadding": 1, "titlePadding": 1, "labelOverlap": false}},
     "y": {"field": "s", "type": "quantitative", "scale": {"domain": [0.5, 1], "nice": false, "zero": false},
      "axis": {"title": ["Biochemical", "Relapse-Free Survival"], "values": [0.5, 0.6, 0.7, 0.8, 0.9, 1], "tickCount": 6, "format": ".1f", "titleFontSize": 22, "titleFontWeight": "bold", "titleLineHeight": 25, "labelFontSize": 19, "labelFontWeight": "bold", "domainWidth": 2, "tickWidth": 2, "tickSize": 6, "labelPadding": 1, "titlePadding": 15.5, "labelOverlap": false, "labelSeparation": -60}},
     "strokeDash": {"field": "arm", "type": "nominal", "scale": {"domain": ["High Expression", "Low Expression"], "range": [[1, 0], [2, 4]]}, "legend": null}}},
   {"data": {"name": "km2_cens"}, "mark": {"type": "tick", "orient": "vertical", "size": 7, "thickness": 1.5, "yOffset": -3.5, "color": "black"},
    "encoding": {"x": {"field": "t", "type": "quantitative"}, "y": {"field": "s", "type": "quantitative"}}},
   {"data": {"values": [{"label": "p<0.02, HR 0.46 (0.19-1.14)"}]}, "mark": {"type": "text", "fontSize": 19, "color": "#222222"},
    "encoding": {"x": {"datum": 31.1}, "y": {"datum": 0.534}, "text": {"field": "label"}}}
  ]},
 {"width": 145, "height": 1, "data": {"values": []}, "mark": "point"},
 {"width": 236, "height": 157.7,
  "title": {"text": "GSE70769 - Stockholm", "fontSize": 24, "offset": -1},
  "layer": [
   {"data": {"name": "km3_line"}, "mark": {"type": "line", "interpolate": "step-after", "strokeWidth": 2, "color": "black"},
    "encoding": {
     "x": {"field": "t", "type": "quantitative", "scale": {"domain": [0, 60], "nice": false},
      "axis": {"title": "Time (in mo)", "values": [0, 20, 40, 60], "tickCount": 4, "titleFontSize": 22, "titleFontWeight": "bold", "labelFontSize": 19, "labelFontWeight": "bold", "domainWidth": 2, "tickWidth": 2, "tickSize": 6, "labelPadding": 1, "titlePadding": 1, "labelOverlap": false}},
     "y": {"field": "s", "type": "quantitative", "scale": {"domain": [0.5, 1], "nice": false, "zero": false},
      "axis": {"title": ["Biochemical", "Relapse-Free Survival"], "values": [0.5, 0.6, 0.7, 0.8, 0.9, 1], "tickCount": 6, "format": ".1f", "titleFontSize": 22, "titleFontWeight": "bold", "titleLineHeight": 25, "labelFontSize": 19, "labelFontWeight": "bold", "domainWidth": 2, "tickWidth": 2, "tickSize": 6, "labelPadding": 1, "titlePadding": 15.5, "labelOverlap": false, "labelSeparation": -60}},
     "strokeDash": {"field": "arm", "type": "nominal", "scale": {"domain": ["High Expression", "Low Expression"], "range": [[1, 0], [2, 4]]}, "legend": null}}},
   {"data": {"name": "km3_cens"}, "mark": {"type": "tick", "orient": "vertical", "size": 7, "thickness": 1.5, "yOffset": -3.5, "color": "black"},
    "encoding": {"x": {"field": "t", "type": "quantitative"}, "y": {"field": "s", "type": "quantitative"}}},
   {"data": {"values": [{"label": "p<0.02, HR 0.60 (0.32-1.11)"}]}, "mark": {"type": "text", "fontSize": 19, "color": "#222222"},
    "encoding": {"x": {"datum": 29.2}, "y": {"datum": 0.534}, "text": {"field": "label"}}}
  ]}
]}
]
}
